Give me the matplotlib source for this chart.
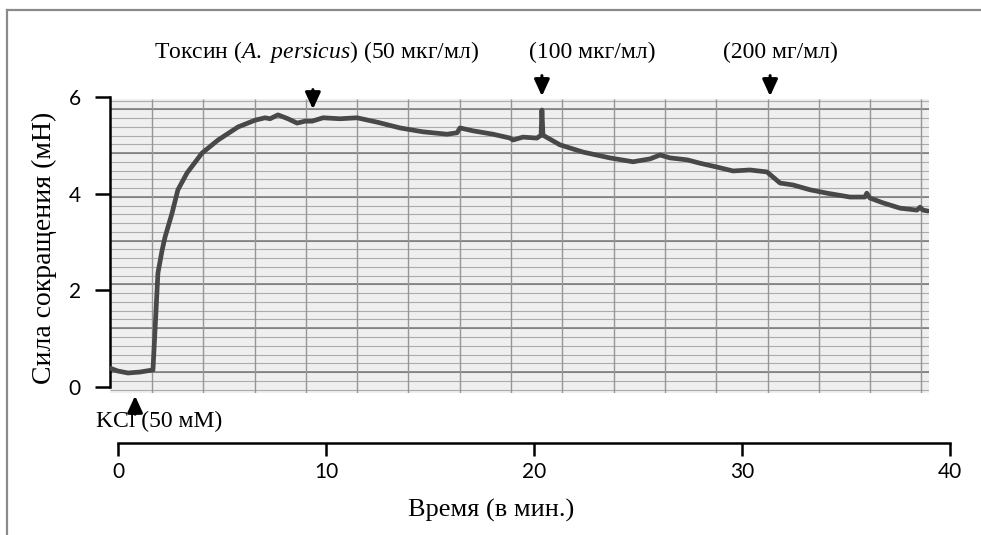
# -*- coding: UTF-8 -*-
# Запись сокращения (ленточный самописец): KCl + токсин A. persicus
import numpy as np
import matplotlib.pyplot as plt
from matplotlib.lines import Line2D

plt.rcParams['mathtext.fontset'] = 'custom'
plt.rcParams['mathtext.rm'] = 'Liberation Serif'
plt.rcParams['mathtext.it'] = 'Liberation Serif:italic'

time_min = [-0.38, 0.0, 0.48, 1.06, 1.63, 1.68, 1.78, 1.92, 2.12, 2.26, 2.60,
            2.88, 3.32, 4.04, 4.81, 5.77, 6.59, 7.07, 7.31, 7.69, 8.17, 8.61,
            8.99, 9.33, 9.86, 10.67, 11.49, 12.45, 13.56, 14.66, 15.82, 16.30,
            16.44, 17.07, 18.03, 18.85, 18.99, 19.47, 20.14, 20.34, 20.38,
            20.43, 21.25, 22.36, 23.65, 24.76, 25.58, 26.06, 26.54, 27.36,
            27.98, 28.80, 29.57, 30.38, 31.20, 31.83, 32.45, 33.27, 34.09,
            35.19, 35.91, 36.00, 36.15, 36.78, 37.60, 38.41, 38.56, 38.70,
            38.94]
force_mn = [0.39, 0.33, 0.29, 0.31, 0.35, 0.35, 1.18, 2.36, 2.83, 3.10, 3.60,
            4.08, 4.43, 4.84, 5.11, 5.38, 5.52, 5.57, 5.55, 5.63, 5.55, 5.46,
            5.50, 5.50, 5.57, 5.55, 5.57, 5.48, 5.36, 5.28, 5.23, 5.26,
            5.36, 5.30, 5.23, 5.15, 5.11, 5.17, 5.15, 5.21, 5.73,
            5.21, 5.01, 4.86, 4.74, 4.66, 4.72, 4.80, 4.74, 4.70,
            4.63, 4.55, 4.47, 4.49, 4.45, 4.22, 4.18, 4.08, 4.01,
            3.93, 3.93, 4.01, 3.91, 3.81, 3.70, 3.66, 3.72, 3.66,
            3.64]

# моменты добавления веществ (мин)
kcl_time = 0.82
toxin_times = [9.37, 20.38, 31.35]
toxin_labels = [r'Токсин ($\mathit{A.\ persicus}$) (50 мкг/мл)',
                '(100 мкг/мл)', '(200 мг/мл)']

y_ticks = [0, 2, 4, 6]
x_ticks = [0, 10, 20, 30, 40]

W, H = 981, 535
fig = plt.figure(figsize=(W / 100, H / 100), dpi=100)

# рамка
fig.add_artist(Line2D([7 / W, 1], [1 - 10 / H, 1 - 10 / H],
                      color='#8a8a8a', lw=1.6))
fig.add_artist(Line2D([7 / W, 7 / W], [0, 1 - 10 / H],
                      color='#8a8a8a', lw=1.6))

# основная область (бумага самописца)
ax = fig.add_axes([110 / W, 1 - 393 / H, 819 / W, 296 / H])
x0, x1 = -0.385, 38.99
y0, y1 = -0.124, 5.96
ax.set_xlim(x0, x1)
ax.set_ylim(y0, 6.0)
ax.add_patch(plt.Rectangle((x0, y0), x1 - x0, y1 - y0,
                           facecolor='#efefef', edgecolor='none', zorder=0))

# сетка бумаги
hy = 0.31 + 0.1812 * np.arange(-2, 32)
ax.hlines(hy, x0, x1, colors='#ababab', lw=0.8, zorder=1)
ax.hlines(0.31 + 0.906 * np.arange(7), x0, x1, colors='#767676', lw=1.1,
          zorder=1)
ax.vlines(1.635 + 2.466 * np.arange(16), y0, y1, colors='#969696', lw=1.0,
          zorder=1)

ax.plot(time_min, force_mn, color='#484848', lw=3.4, zorder=3,
        solid_joinstyle='round', solid_capstyle='round')

for sp in ['top', 'right', 'bottom']:
    ax.spines[sp].set_visible(False)
ax.spines['left'].set_bounds(0, 6)
ax.spines['left'].set_linewidth(1.8)
ax.set_xticks([])
ax.set_yticks(y_ticks)
ax.tick_params(axis='y', direction='out', length=11, width=1.8, pad=10,
               labelsize=15)
for lab in ax.get_yticklabels():
    lab.set_fontfamily('Lato')

# стрелки
arrow = dict(arrowstyle='-|>,head_length=0.5,head_width=0.23', color='black',
             lw=2.2, mutation_scale=20)
for t in toxin_times:
    ax.annotate('', xy=(t, 5.69 if t < 10 else 5.96),
                xytext=(t, 6.21 if t < 10 else 6.50),
                arrowprops=arrow, annotation_clip=False)
ax.annotate('', xy=(kcl_time, -0.124), xytext=(kcl_time, -0.62),
            arrowprops=arrow, annotation_clip=False)

# подписи
for xp, txt in zip([316, 592, 780], toxin_labels):
    fig.text(xp / W, 1 - 52 / H, txt, ha='center', va='center',
             family='Liberation Serif', fontsize=17)
fig.text(96 / W, 1 - 421 / H, 'KCl (50 мМ)', ha='left', va='center',
         family='Liberation Serif', fontsize=17)
fig.text(44 / W, 1 - 248 / H, 'Сила сокращения (мН)', ha='center',
         va='center', rotation=90, family='Liberation Serif', fontsize=20)

# ось времени
ax2 = fig.add_axes([118 / W, 1 - 443 / H, 832 / W, 0.01])
ax2.set_xlim(0, 40)
ax2.set_xticks(x_ticks)
ax2.set_yticks([])
for sp in ['top', 'right', 'left']:
    ax2.spines[sp].set_visible(False)
ax2.spines['bottom'].set_linewidth(1.8)
ax2.patch.set_visible(False)
ax2.tick_params(axis='x', direction='out', length=9, width=1.8, pad=5,
                labelsize=15)
for lab in ax2.get_xticklabels():
    lab.set_fontfamily('Lato')
fig.text(491 / W, 1 - 510 / H, 'Время (в мин.)', ha='center', va='center',
         family='Liberation Serif', fontsize=19)

fig.savefig('out.png', dpi=100)
